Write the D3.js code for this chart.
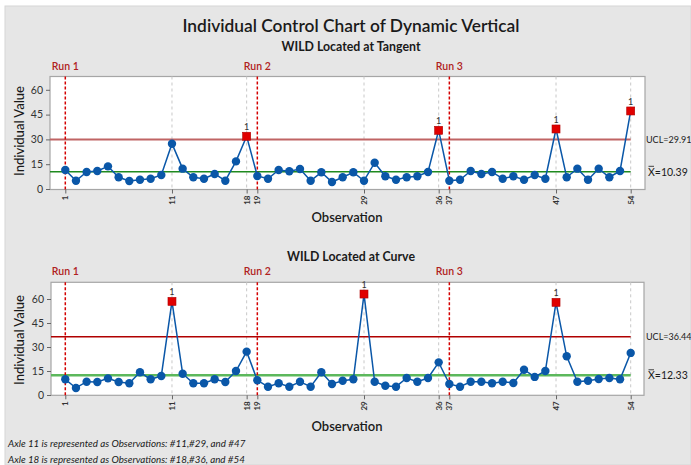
<!DOCTYPE html>
<html>
<head>
<meta charset="utf-8">
<script src="https://cdn.jsdelivr.net/npm/d3@7"></script>
<style>
  html, body { margin: 0; padding: 0; background: #ffffff; }
  svg { display: block; }
  text { font-family: Lato, "Open Sans", "Noto Sans", sans-serif; }
</style>
</head>
<body>
<script>
// ---------- data ----------
const observations = d3.range(1, 55);
const tangentValues = [
  11.5, 5.0, 10.3, 10.9, 13.7, 7.1, 4.8, 5.6, 6.2, 8.5,
  27.4, 12.3, 7.1, 6.2, 9.1, 5.0, 16.7, 31.9, 7.9, 6.2,
  11.5, 10.7, 12.1, 5.0, 10.1, 4.2, 7.1, 10.1, 5.0, 15.9,
  7.7, 5.6, 7.1, 7.7, 10.3, 35.5, 5.0, 5.6, 10.9, 9.1,
  10.3, 6.2, 7.7, 5.6, 8.5, 6.2, 36.3, 7.1, 12.3, 5.6,
  12.3, 7.1, 10.9, 47.2
];
const curveValues = [
  9.8, 4.4, 8.3, 8.1, 10.4, 8.1, 7.3, 14.2, 9.8, 11.9,
  58.5, 13.3, 7.3, 7.3, 9.8, 8.1, 15.0, 27.1, 9.2, 5.2,
  7.3, 5.2, 8.3, 5.2, 14.2, 6.9, 8.9, 9.8, 63.1, 8.3,
  5.8, 5.2, 10.6, 8.3, 10.6, 20.4, 6.9, 5.2, 8.3, 8.3,
  7.3, 8.3, 7.5, 15.8, 11.3, 15.0, 57.9, 24.2, 8.3, 8.9,
  10.0, 10.6, 9.8, 26.3
];
const tangentUCL = 29.91, tangentMean = 10.39;
const curveUCL = 36.44, curveMean = 12.33;
const yTicks = [0, 15, 30, 45, 60];
const xTickLabels = [1, 11, 18, 19, 29, 36, 37, 47, 54];
const runStarts = [1, 19, 37];
const runLabels = ["Run 1", "Run 2", "Run 3"];
const gridObs = [11, 18, 29, 36, 47, 54];
const footnotes = [
  "Axle 11 is represented as Observations: #11,#29, and #47",
  "Axle 18 is represented as Observations: #18,#36, and #54"
];

// ---------- svg ----------
const W = 691, H = 465;
const svg = d3.select("body").append("svg").attr("width", W).attr("height", H);
svg.append("rect").attr("x", 0).attr("y", 0).attr("width", W).attr("height", H).attr("fill", "#ffffff");
svg.append("rect").attr("x", 5).attr("y", 6).attr("width", W - 5).attr("height", H - 6)
  .attr("fill", "#e6e6e6").attr("stroke", "#d6d6d6");

svg.append("text").attr("x", 351).attr("y", 32).attr("text-anchor", "middle")
  .attr("font-size", 17).attr("font-weight", 600).attr("fill", "#1a1a1a")
  .attr("textLength", 337).attr("lengthAdjust", "spacingAndGlyphs")
  .text("Individual Control Chart of Dynamic Vertical");

function drawChart(cfg) {
  const g = svg.append("g");
  const x = d3.scaleLinear().domain([1, 54]).range([65.3, 630.7]);
  const y = d3.scaleLinear().domain([0, 60]).range([cfg.y0, cfg.y60]);

  // subtitle
  g.append("text").attr("x", 351).attr("y", cfg.subY).attr("text-anchor", "middle")
    .attr("font-size", 12.5).attr("font-weight", 700).attr("fill", "#1a1a1a")
    .attr("textLength", cfg.subLen).attr("lengthAdjust", "spacingAndGlyphs")
    .text(cfg.subtitle);

  // plot area
  g.append("rect").attr("x", cfg.left).attr("y", cfg.top)
    .attr("width", cfg.right - cfg.left).attr("height", cfg.bottom - cfg.top)
    .attr("fill", "#ffffff").attr("stroke", "#a6a6a6").attr("stroke-width", 1.2);

  // grid lines
  g.selectAll(".grid").data(gridObs).enter().append("line")
    .attr("x1", d => x(d)).attr("x2", d => x(d))
    .attr("y1", cfg.top).attr("y2", cfg.bottom)
    .attr("stroke", "#c8c8c8").attr("stroke-width", 1).attr("stroke-dasharray", "3,3");

  // control lines
  g.append("line").attr("x1", cfg.left).attr("x2", x(54))
    .attr("y1", y(cfg.ucl)).attr("y2", y(cfg.ucl))
    .attr("stroke", cfg.uclColor).attr("stroke-width", cfg.uclWidth);
  g.append("line").attr("x1", cfg.left).attr("x2", x(54))
    .attr("y1", y(cfg.mean)).attr("y2", y(cfg.mean))
    .attr("stroke", cfg.meanColor).attr("stroke-width", cfg.meanWidth);

  // run lines + labels
  g.selectAll(".run").data(runStarts).enter().append("line")
    .attr("x1", d => x(d)).attr("x2", d => x(d))
    .attr("y1", cfg.top).attr("y2", cfg.bottom)
    .attr("stroke", "#d40000").attr("stroke-width", 1.5).attr("stroke-dasharray", "3,2");
  g.selectAll(".runlab").data(runStarts).enter().append("text")
    .attr("x", d => x(d)).attr("y", cfg.top - 7).attr("text-anchor", "middle")
    .attr("font-size", 10.5).attr("font-weight", 600).attr("fill", "#b02020")
    .text((d, i) => runLabels[i]);

  // axes
  const yAxis = d3.axisLeft(y).tickValues(yTicks).tickSize(4).tickPadding(3);
  const ya = g.append("g").attr("transform", `translate(${cfg.left},0)`).call(yAxis);
  ya.select(".domain").remove();
  ya.selectAll("line").attr("stroke", "#666");
  ya.selectAll("text").attr("font-size", 10.5).attr("fill", "#333")
    .attr("font-family", "Lato, 'Open Sans', sans-serif");

  const xAxis = d3.axisBottom(x).tickValues(xTickLabels).tickSize(4).tickFormat(d3.format("d"));
  const xa = g.append("g").attr("transform", `translate(0,${cfg.bottom})`).call(xAxis);
  xa.select(".domain").remove();
  xa.selectAll("line").attr("stroke", "#666");
  xa.selectAll("text")
    .attr("font-size", 8).attr("font-weight", 700).attr("fill", "#333")
    .attr("font-family", "Lato, 'Open Sans', sans-serif")
    .attr("transform", "rotate(-90)")
    .attr("text-anchor", "end").attr("x", -6).attr("y", 0).attr("dy", "0.32em");

  // axis titles
  g.append("text").attr("transform", `translate(24,${cfg.yLabelY}) rotate(-90)`)
    .attr("text-anchor", "middle").attr("font-size", 13).attr("fill", "#1a1a1a")
    .attr("font-weight", 500).text("Individual Value");
  g.append("text").attr("x", 347).attr("y", cfg.xLabelY).attr("text-anchor", "middle")
    .attr("font-size", 13).attr("font-weight", 600).attr("fill", "#1a1a1a")
    .text("Observation");

  // data line
  const line = d3.line().x((d, i) => x(observations[i])).y(d => y(d));
  g.append("path").datum(cfg.values).attr("d", line)
    .attr("fill", "none").attr("stroke", "#0a57a8").attr("stroke-width", 1.5);

  const pts = observations.map((o, i) => ({ o, v: cfg.values[i] }));
  g.selectAll(".pt").data(pts.filter(p => p.v <= cfg.ucl)).enter().append("circle")
    .attr("cx", p => x(p.o)).attr("cy", p => y(p.v)).attr("r", 4.2)
    .attr("fill", "#0a57a8");
  const outs = pts.filter(p => p.v > cfg.ucl);
  g.selectAll(".out").data(outs).enter().append("rect")
    .attr("x", p => x(p.o) - 4).attr("y", p => y(p.v) - 4)
    .attr("width", 8).attr("height", 8).attr("fill", "#e00000").attr("stroke", "#b00000").attr("stroke-width", 0.6);
  g.selectAll(".outlab").data(outs).enter().append("text")
    .attr("x", p => x(p.o)).attr("y", p => y(p.v) - 6).attr("text-anchor", "middle")
    .attr("font-size", 9).attr("fill", "#333").text("1");

  // right labels
  g.append("text").attr("x", 646).attr("y", y(cfg.ucl) + 3.5).attr("font-size", 9).attr("fill", "#1a1a1a")
    .text("UCL=" + cfg.ucl.toFixed(2));
  const mt = g.append("text").attr("x", 648).attr("y", y(cfg.mean) + 4).attr("font-size", 10.5).attr("fill", "#1a1a1a");
  mt.append("tspan").text("X");
  mt.append("tspan").text("=" + cfg.mean.toFixed(2));
  g.append("line").attr("x1", 648.5).attr("x2", 654).attr("y1", y(cfg.mean) - 5.5).attr("y2", y(cfg.mean) - 5.5)
    .attr("stroke", "#1a1a1a").attr("stroke-width", 0.8);
}

drawChart({
  subtitle: "WILD Located at Tangent", subY: 51, subLen: 139,
  values: tangentValues, ucl: tangentUCL, mean: tangentMean,
  left: 50, right: 645, top: 76.5, bottom: 189.5, y0: 189, y60: 89.8,
  uclColor: "#c06464", uclWidth: 2, meanColor: "#1f8a1f", meanWidth: 1.5,
  yLabelY: 131, xLabelY: 222
});
drawChart({
  subtitle: "WILD Located at Curve", subY: 261, subLen: 128,
  values: curveValues, ucl: curveUCL, mean: curveMean,
  left: 51, right: 644, top: 282.3, bottom: 395.3, y0: 395, y60: 299,
  uclColor: "#b00000", uclWidth: 1.5, meanColor: "#5cb85c", meanWidth: 2.5,
  yLabelY: 340, xLabelY: 431
});

svg.selectAll(".foot").data(footnotes).enter().append("text")
  .attr("x", 8).attr("y", (d, i) => 447 + i * 16)
  .attr("font-size", 9.8).attr("font-style", "italic").attr("fill", "#1a1a1a")
  .text(d => d);
</script>
</body>
</html>
